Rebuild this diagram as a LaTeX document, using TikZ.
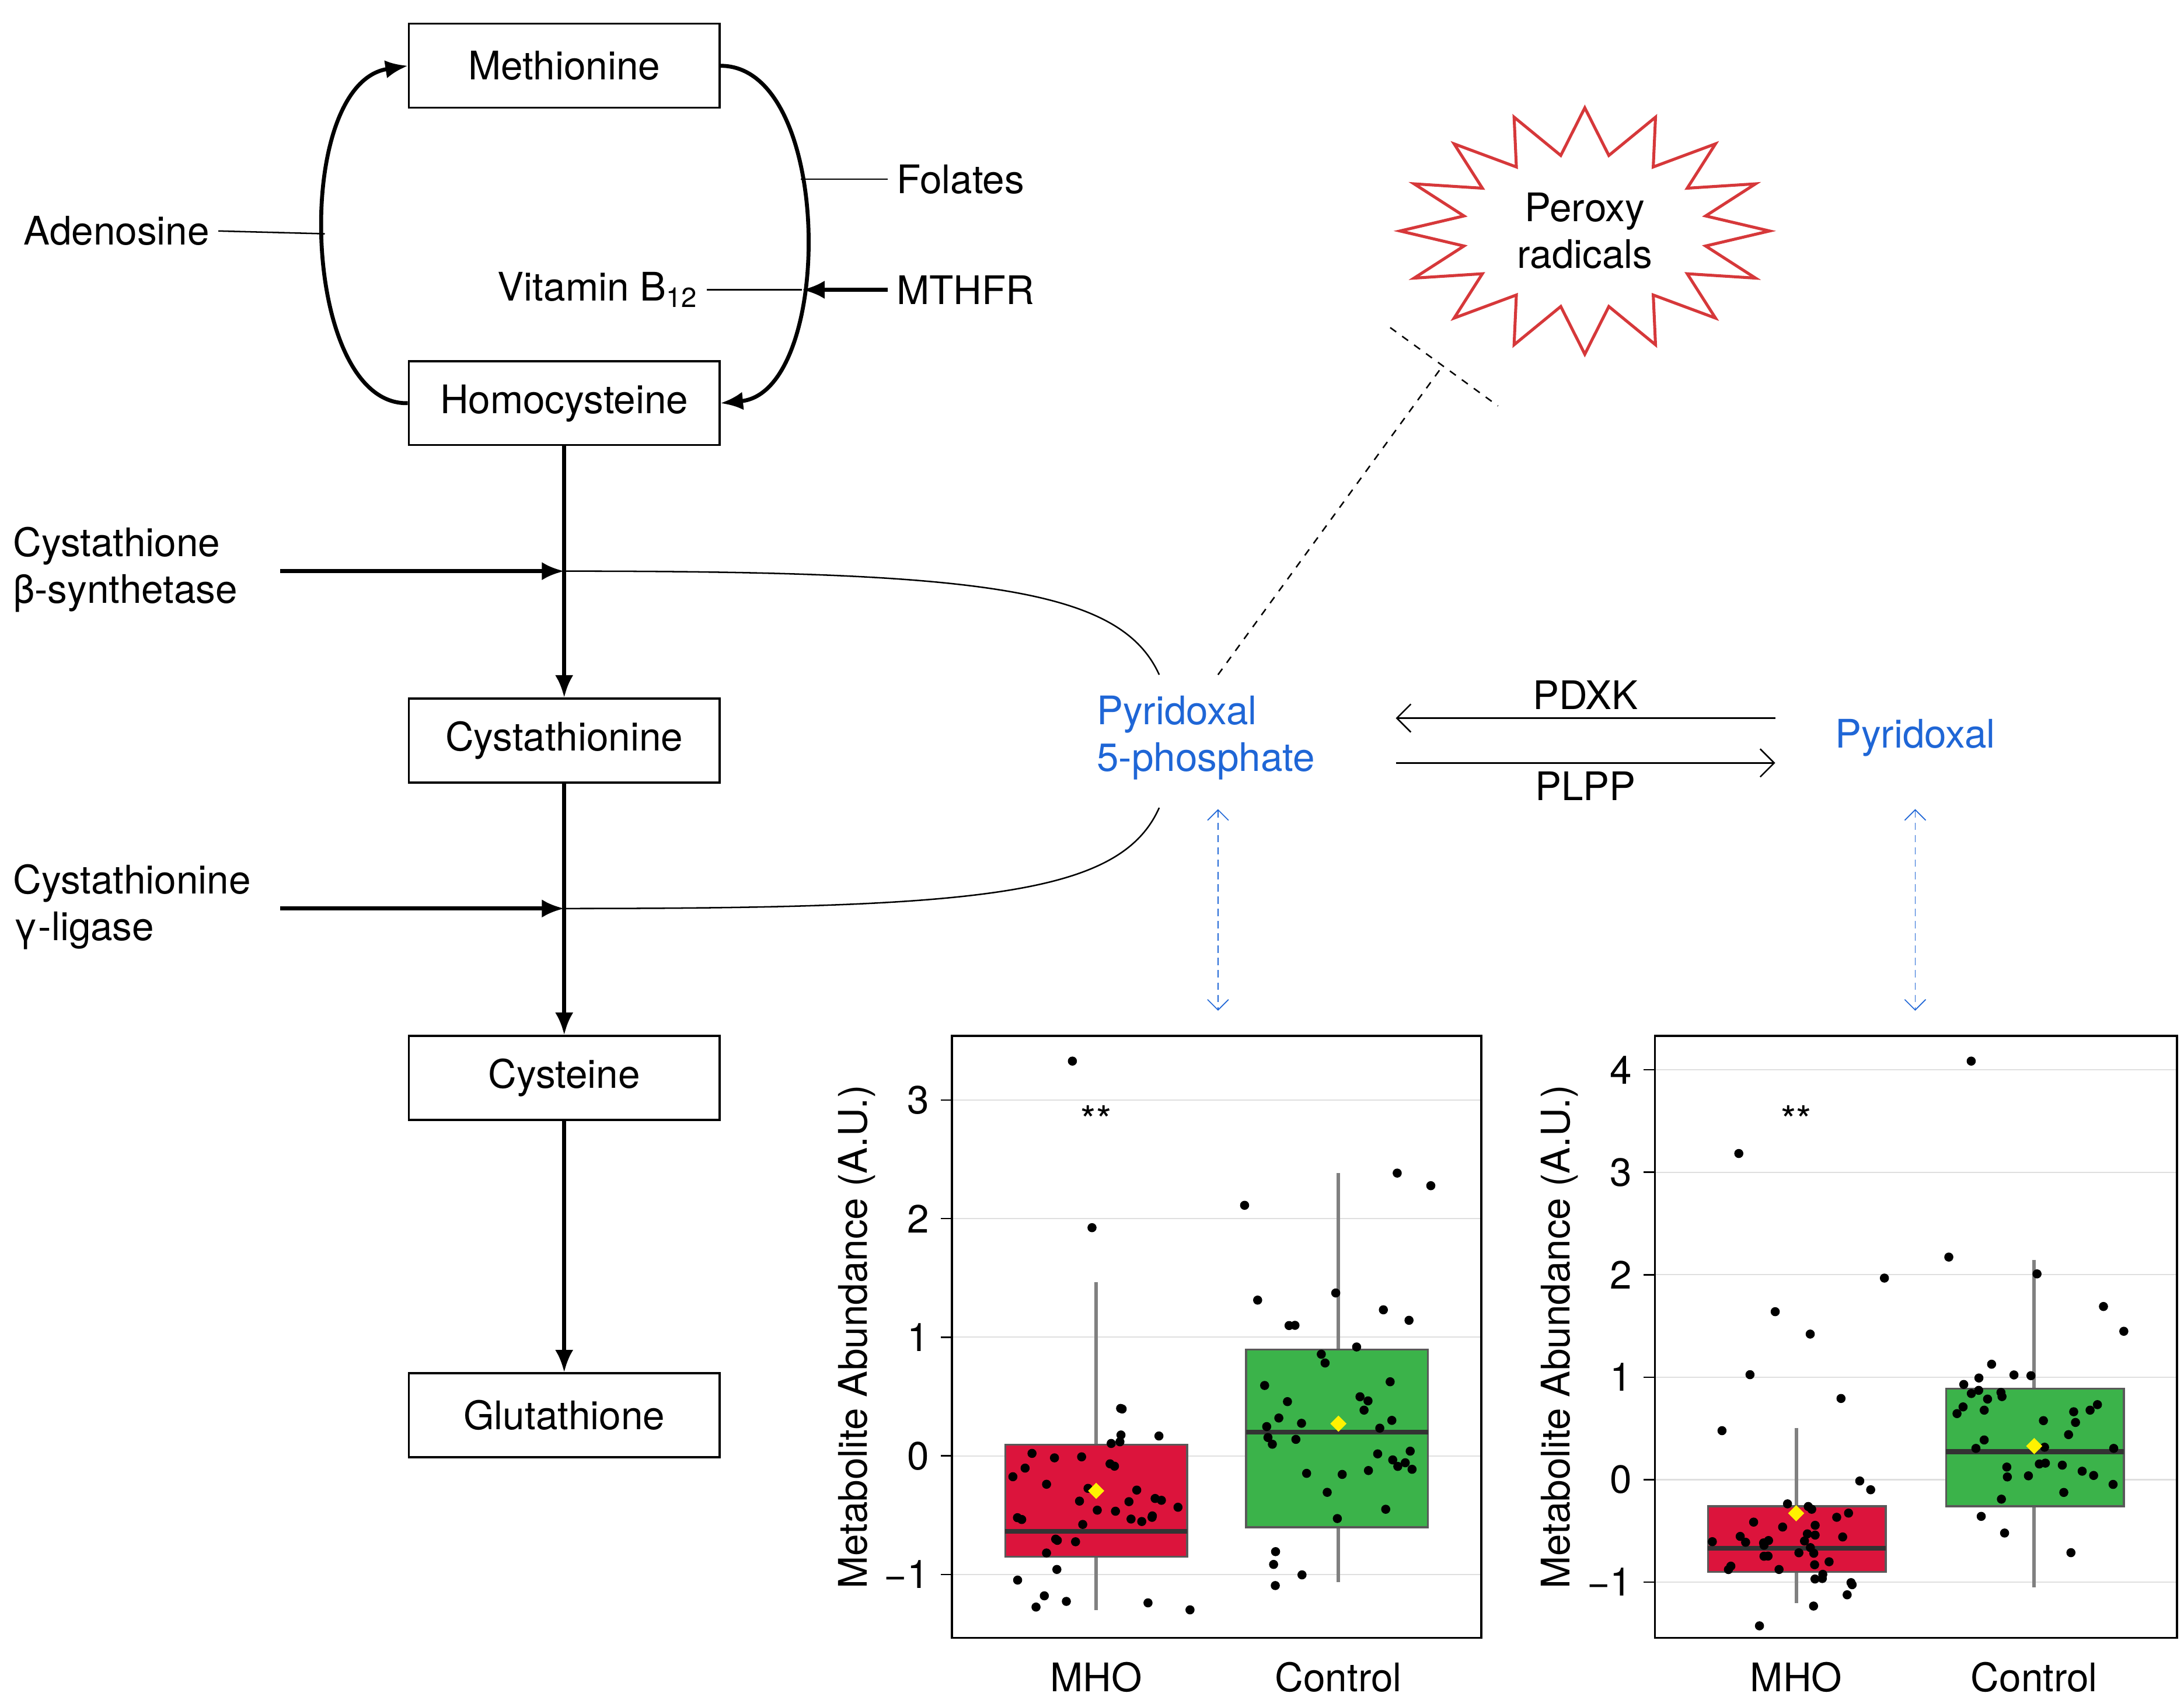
\documentclass[tikz,border=0pt]{standalone}
\usepackage{fontspec}
\setmainfont{TeX Gyre Heros}
\usetikzlibrary{arrows.meta,positioning,calc,shapes.geometric}
\definecolor{pyrblue}{HTML}{1F66D6}
\definecolor{boxred}{HTML}{DC143C}
\definecolor{boxgreen}{HTML}{3BB34A}
\definecolor{starred}{HTML}{D6383A}
\tikzset{
  met/.style={draw, thick, minimum width=44.4mm, minimum height=12mm, font=\fontsize{16}{19}\selectfont},
  lab/.style={font=\fontsize{16}{19}\selectfont, align=left},
  thickarr/.style={line width=1.6pt, -{Latex[length=3.2mm,width=2.6mm]}},
  dashblue/.style={pyrblue, densely dashed, thin, {Straight Barb[length=1.5mm]}-{Straight Barb[length=1.5mm]}},
  grid/.style={gray!25, line width=0.5pt},
  dot/.style={fill=black, inner sep=0pt, minimum size=1.3mm, circle},
  mean/.style={fill=yellow, diamond, inner sep=0pt, minimum size=2.4mm},
}
\begin{document}
\begin{tikzpicture}[x=0.2mm, y=-0.2mm, semithick]
\useasboundingbox (0,0) rectangle (1560,1214);
% pathway boxes
\node[met] (met) at (403,47) {Methionine};
\node[met] (hcy) at (403,288) {Homocysteine};
\node[met] (cth) at (403,529) {Cystathionine};
\node[met] (cys) at (403,770) {Cysteine};
\node[met] (glu) at (403,1011) {Glutathione};
% cycle
\draw[thickarr] (hcy.west) .. controls (215,290) and (208,60) .. (met.west);
\draw[thickarr] (met.east) .. controls (596,47) and (596,280) .. (hcy.east);
\coordinate (cl) at (232,167);
\coordinate (cr) at (572,128);
\coordinate (cb) at (573,207);
\node[lab, anchor=east] (ade) at (156,165) {Adenosine};
\draw (ade.east) -- (cl);
\node[lab, anchor=west] (fol) at (634,128) {Folates};
\draw (fol.west) -- (cr);
\node[lab, anchor=east] (b12) at (505,207) {Vitamin B\textsubscript{12}};
\draw (b12.east) -- (cb);
\node[lab, anchor=west] (mth) at (634,207) {MTHFR};
\draw[line width=1.6pt, -{Latex[length=3.2mm,width=2.6mm]}] (mth.west) -- (cb);
% transsulfuration
\draw[thickarr] (hcy) -- (cth);
\draw[thickarr] (cth) -- (cys);
\draw[thickarr] (cys) -- (glu);
\coordinate (j1) at (403,408);
\coordinate (j2) at (403,649);
\node[lab, anchor=north west] (cbs) at (3,370) {Cystathione\\β-synthetase};
\node[lab, anchor=north west] (cgl) at (3,611) {Cystathionine\\γ-ligase};
\draw[thickarr] (200,408) -- (j1);
\draw[thickarr] (200,649) -- (j2);
% pyridoxal
\node[lab, pyrblue, anchor=west] (plp) at (777,527) {Pyridoxal\\5-phosphate};
\node[lab, pyrblue] (pyr) at (1368,527) {Pyridoxal};
\draw (j1) .. controls (700,408) and (800,420) .. (828,482);
\draw (j2) .. controls (700,649) and (800,640) .. (828,577);
\coordinate (pl) at (997,513);
\coordinate (pr) at (1268,513);
\draw[-{Straight Barb[length=2mm]}] (pr) -- node[lab, above] {PDXK} (pl);
\draw[-{Straight Barb[length=2mm]}] ($(pl)+(0,32)$) -- node[lab, below] {PLPP} ($(pr)+(0,32)$);
% peroxy radicals
\draw[starred, line width=1.2pt] (1132+132,165)
  \foreach \i in {1,...,31} {
    \ifodd\i -- ({1132+88*cos(\i*11.25)},{165-55*sin(\i*11.25)})
    \else -- ({1132+132*cos(\i*11.25)},{165-88*sin(\i*11.25)}) \fi
  } -- cycle;
\node[lab, align=center] (rad) at (1132,165) {Peroxy\\radicals};
\coordinate (inh) at (1030,262);
\draw[dashed] (870,482) -- (inh);
\draw[dashed] (993,234) -- (1070,290);
% links to plots
\draw[dashblue] (870,578) -- (870,722);
\draw[dashblue] (1368,578) -- (1368,722);
% plot 1
\foreach \v in {-1,0,1,2,3} {
  \draw[grid] (680,1040-84.75*\v) -- (1058,1040-84.75*\v);
  \draw (680,1040-84.75*\v) -- (672,1040-84.75*\v);
  \node[lab, anchor=east] at (670,1040-84.75*\v) {\ifnum\v<0 −1\else\v\fi};
}
\node[lab, rotate=90] at (612,955) {Metabolite Abundance (A.U.)};
\draw[gray, line width=1.4pt] (783,916) -- (783,1150);
\draw[gray, line width=1.4pt] (956,838) -- (956,1130);
\draw[fill=boxred, draw=gray!70!black, thick] (718,1032) rectangle (848,1112);
\draw[fill=boxgreen, draw=gray!70!black, thick] (890,964) rectangle (1020,1091);
\draw[gray!40!black, line width=2pt] (718,1094) -- (848,1094);
\draw[gray!40!black, line width=2pt] (890,1023) -- (1020,1023);
\pgfmathsetseed{7}
\foreach \i in {1,...,38} {
  \pgfmathsetmacro\xx{783+120*(rnd-0.5)}
  \pgfmathsetmacro\yy{1070+60*(rnd+rnd+rnd-1.5)}
  \node[dot] at (\xx,\yy) {};
  \pgfmathsetmacro\xx{956+120*(rnd-0.5)}
  \pgfmathsetmacro\yy{1020+100*(rnd+rnd+rnd-1.5)}
  \node[dot] at (\xx,\yy) {};
}
\foreach \p in {(766,758),(780,877),(740,1148),(820,1145),(850,1150),(889,861),(998,838),(1022,847),(930,1125)}
  \node[dot] at \p {};
\node[mean] at (783,1065) {};
\node[mean] at (956,1017) {};
\node[lab] at (783,800) {**};
\draw[thick] (680,740) rectangle (1058,1170);
\node[lab] at (783,1198) {MHO};
\node[lab] at (956,1198) {Control};
% plot 2
\foreach \v in {-1,0,1,2,3,4} {
  \draw[grid] (1182,1057-73.2*\v) -- (1555,1057-73.2*\v);
  \draw (1182,1057-73.2*\v) -- (1174,1057-73.2*\v);
  \node[lab, anchor=east] at (1172,1057-73.2*\v) {\ifnum\v<0 −1\else\v\fi};
}
\node[lab, rotate=90] at (1114,955) {Metabolite Abundance (A.U.)};
\draw[gray, line width=1.4pt] (1283,1020) -- (1283,1145);
\draw[gray, line width=1.4pt] (1453,900) -- (1453,1134);
\draw[fill=boxred, draw=gray!70!black, thick] (1220,1076) rectangle (1347,1123);
\draw[fill=boxgreen, draw=gray!70!black, thick] (1390,992) rectangle (1517,1076);
\draw[gray!40!black, line width=2pt] (1220,1106) -- (1347,1106);
\draw[gray!40!black, line width=2pt] (1390,1037) -- (1517,1037);
\pgfmathsetseed{11}
\foreach \i in {1,...,38} {
  \pgfmathsetmacro\xx{1283+120*(rnd-0.5)}
  \pgfmathsetmacro\yy{1105+40*(rnd+rnd+rnd-1.5)}
  \node[dot] at (\xx,\yy) {};
  \pgfmathsetmacro\xx{1453+120*(rnd-0.5)}
  \pgfmathsetmacro\yy{1040+85*(rnd+rnd+rnd-1.5)}
  \node[dot] at (\xx,\yy) {};
}
\foreach \p in {(1242,824),(1268,937),(1293,953),(1346,913),(1250,982),(1315,999),(1408,758),(1392,898),(1455,910),(1517,951),(1230,1022)}
  \node[dot] at \p {};
\node[mean] at (1283,1081) {};
\node[mean] at (1453,1033) {};
\node[lab] at (1283,800) {**};
\draw[thick] (1182,740) rectangle (1555,1170);
\node[lab] at (1283,1198) {MHO};
\node[lab] at (1453,1198) {Control};
\end{tikzpicture}
\end{document}
